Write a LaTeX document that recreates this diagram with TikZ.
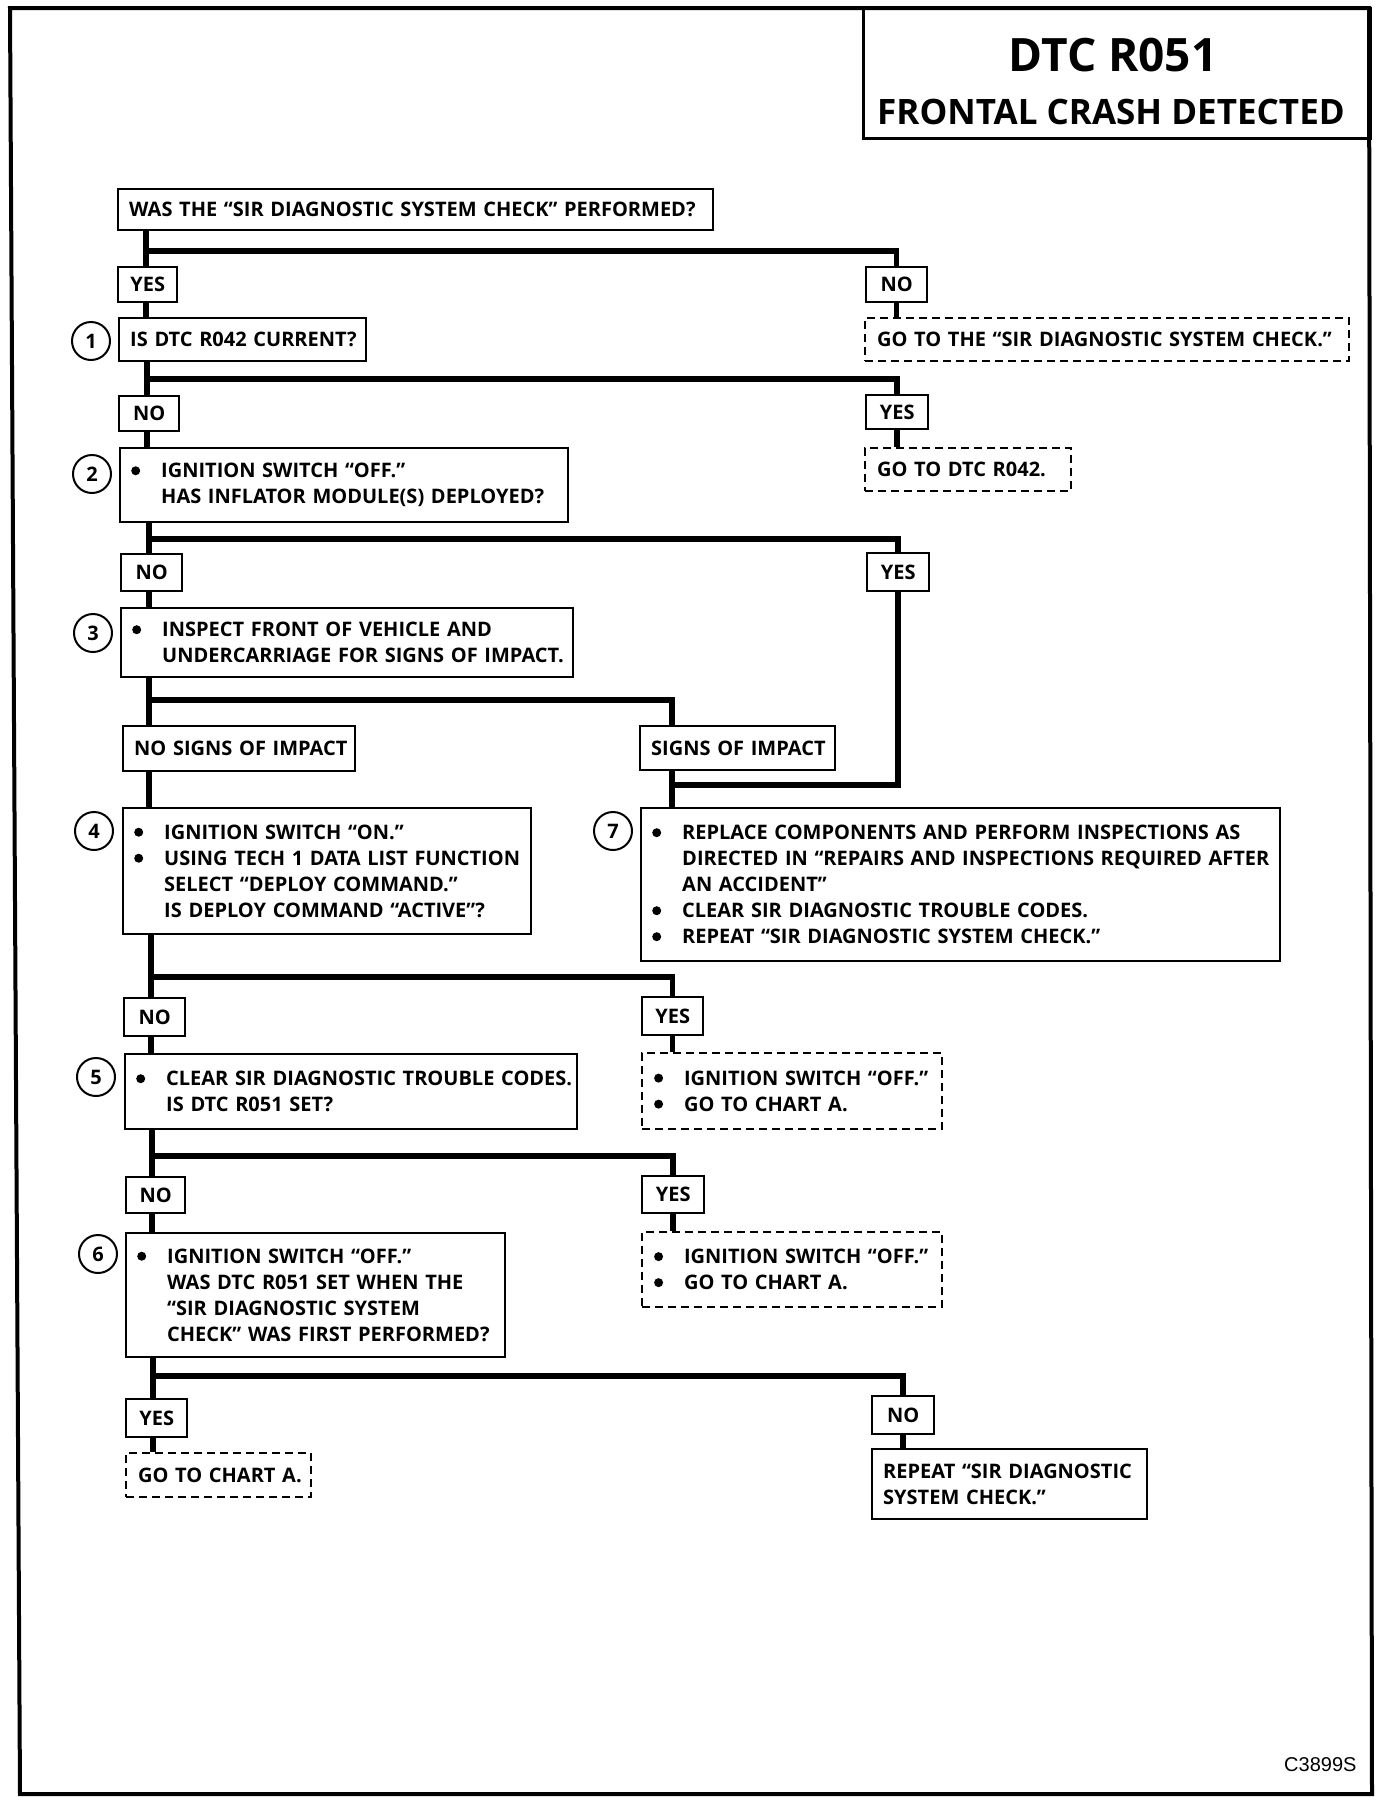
\documentclass[tikz,border=0pt]{standalone}
\usepackage{fontspec}
\setmainfont{Open Sans}
\newfontfamily\arialf{Liberation Sans}
\usetikzlibrary{calc}
\newcommand\dotb{\raisebox{2.6pt}{\tikz\fill (0,0) circle (4.5pt);}}
\newcommand\bul[1]{\mbox{\makebox[30pt][l]{\dotb}#1}}
\newcommand\cnt[1]{\mbox{\hspace*{30pt}#1}}
\newcommand\txl[1]{\mbox{#1}}
\tikzset{
  every node/.style={font=\fontsize{20}{26}\selectfont\bfseries},
  bx/.style={draw, line width=2.4pt, inner xsep=11pt, inner ysep=0pt, anchor=north west, align=left},
  lbl/.style={draw, line width=2.4pt, inner sep=0pt, anchor=north west},
  dbx/.style={bx, dash pattern=on 8pt off 5pt, line width=2.2pt, inner xsep=12pt},
  conn/.style={line width=5.5pt},
  num/.style={draw, circle, line width=2pt, minimum size=38pt, inner sep=0pt, font=\fontsize{20}{20}\selectfont\bfseries},
}
\begin{document}
\begin{tikzpicture}[x=1pt,y=-1pt]
\useasboundingbox (0,0) rectangle (1392,1802);
% outer frame and title
\draw[line width=4pt] (10,8) -- (1369,8) -- (1372,1794) -- (20,1794) -- cycle;
\node[draw, line width=2.5pt, minimum width=507pt, minimum height=130pt, anchor=north west, inner sep=0pt] (title) at (862,7) {};
\node[font=\fontsize{46}{46}\selectfont\bfseries] (t1) at (1113,55) {DTC R051};
\node[font=\fontsize{35}{35}\selectfont\bfseries] (t2) at (1111,112) {FRONTAL CRASH DETECTED};
\node[font=\arialf\fontsize{20}{20}\selectfont, anchor=east] (code) at (1360,1765) {C3899S};

% nodes
\node[bx, text width=573pt, minimum height=41pt] (q0) at (117,188) {\txl{WAS THE “SIR DIAGNOSTIC SYSTEM CHECK” PERFORMED?}};
\node[lbl, minimum width=59pt, minimum height=35pt] (yes1) at (117,266) {YES};
\node[lbl, minimum width=61pt, minimum height=35pt] (no1r) at (865,266) {NO};
\node[dbx, text width=460pt, minimum height=43pt] (goto1) at (864,317) {\txl{GO TO THE “SIR DIAGNOSTIC SYSTEM CHECK.”}};
\node[num] (c1) at (91,341) {1};
\node[bx, text width=225pt, minimum height=43pt] (box1) at (118,317) {\txl{IS DTC R042 CURRENT?}};

\node[lbl, minimum width=60pt, minimum height=35pt] (no2) at (118,395) {NO};
\node[lbl, minimum width=62pt, minimum height=34pt] (yes2r) at (865,394) {YES};
\node[dbx, text width=182pt, minimum height=43pt] (goto2) at (864,447) {\txl{GO TO DTC R042.}};
\node[num] (c2) at (92,474) {2};
\node[bx, text width=426pt, minimum height=74pt] (box2) at (119,447) {\bul{IGNITION SWITCH “OFF.”}\\\cnt{HAS INFLATOR MODULE(S) DEPLOYED?}};

\node[lbl, minimum width=61pt, minimum height=37pt] (no3) at (120,553) {NO};
\node[lbl, minimum width=62pt, minimum height=38pt] (yes3r) at (866,552) {YES};
\node[num] (c3) at (93,633) {3};
\node[bx, text width=430pt, minimum height=69pt] (box3) at (120,607) {\bul{INSPECT FRONT OF VEHICLE AND}\\\cnt{UNDERCARRIAGE FOR SIGNS OF IMPACT.}};

\node[bx, text width=210pt, minimum height=45pt] (nsi) at (122,725) {\txl{NO SIGNS OF IMPACT}};
\node[bx, text width=173pt, minimum height=44pt] (si) at (639,725) {\txl{SIGNS OF IMPACT}};

\node[num] (c4) at (94,831) {4};
\node[bx, text width=386pt, minimum height=126pt] (box4) at (122,807) {\bul{IGNITION SWITCH “ON.”}\\\bul{USING TECH 1 DATA LIST FUNCTION}\\\cnt{SELECT “DEPLOY COMMAND.”}\\\cnt{IS DEPLOY COMMAND “ACTIVE”?}};
\node[num] (c7) at (613,831) {7};
\node[bx, text width=617pt, minimum height=153pt] (box7) at (640,807) {\bul{REPLACE COMPONENTS AND PERFORM INSPECTIONS AS}\\\cnt{DIRECTED IN “REPAIRS AND INSPECTIONS REQUIRED AFTER}\\\cnt{AN ACCIDENT”}\\\bul{CLEAR SIR DIAGNOSTIC TROUBLE CODES.}\\\bul{REPEAT “SIR DIAGNOSTIC SYSTEM CHECK.”}};

\node[lbl, minimum width=61pt, minimum height=38pt] (no5) at (123,997) {NO};
\node[lbl, minimum width=61pt, minimum height=38pt] (yes5r) at (641,996) {YES};
\node[num] (c5) at (96,1077) {5};
\node[bx, text width=430pt, minimum height=75pt] (box5) at (124,1053) {\bul{CLEAR SIR DIAGNOSTIC TROUBLE CODES.}\\\cnt{IS DTC R051 SET?}};
\node[dbx, text width=276pt, minimum height=76pt] (dA1) at (641,1052) {\bul{IGNITION SWITCH “OFF.”}\\\bul{GO TO CHART A.}};

\node[lbl, minimum width=59pt, minimum height=36pt] (no6) at (125,1176) {NO};
\node[lbl, minimum width=62pt, minimum height=37pt] (yes6r) at (641,1175) {YES};
\node[num] (c6) at (98,1254) {6};
\node[bx, text width=357pt, minimum height=124pt] (box6) at (125,1232) {\bul{IGNITION SWITCH “OFF.”}\\\cnt{WAS DTC R051 SET WHEN THE}\\\cnt{“SIR DIAGNOSTIC SYSTEM}\\\cnt{CHECK” WAS FIRST PERFORMED?}};
\node[dbx, text width=276pt, minimum height=75pt] (dA2) at (641,1231) {\bul{IGNITION SWITCH “OFF.”}\\\bul{GO TO CHART A.}};

\node[lbl, minimum width=61pt, minimum height=38pt] (yes7) at (125,1398) {YES};
\node[lbl, minimum width=62pt, minimum height=38pt] (no7r) at (871,1395) {NO};
\node[dbx, text width=161pt, minimum height=44pt] (dA3) at (125,1452) {\txl{GO TO CHART A.}};
\node[bx, text width=253pt, minimum height=70pt] (rep) at (871,1448) {\txl{REPEAT “SIR DIAGNOSTIC}\\\txl{SYSTEM CHECK.”}};

% branch points
\coordinate (b1) at (146,251);
\coordinate (b2) at (147,379);
\coordinate (b3) at (149,539);
\coordinate (b4) at (149,700);
\coordinate (b4r) at (672,700);
\coordinate (j7) at (672,785);
\coordinate (b5) at (151,977);
\coordinate (b6) at (152,1156);
\coordinate (b7) at (153,1376);

% connectors
\draw[conn] (b1 |- q0.south) -- (b1 |- yes1.north);
\draw[conn] (b1) -| (no1r.north);
\draw[conn] (b1 |- yes1.south) -- (b1 |- box1.north);
\draw[conn] (no1r.south) -- (no1r.south |- goto1.north);

\draw[conn] (b2 |- box1.south) -- (b2 |- no2.north);
\draw[conn] (b2) -| (yes2r.north);
\draw[conn] (b2 |- no2.south) -- (b2 |- box2.north);
\draw[conn] (yes2r.south) -- (yes2r.south |- goto2.north);

\draw[conn] (b3 |- box2.south) -- (b3 |- no3.north);
\draw[conn] (b3) -| (yes3r.north);
\draw[conn] (b3 |- no3.south) -- (b3 |- box3.north);
\draw[conn] (yes3r.south) |- (j7);

\draw[conn] (b4 |- box3.south) -- (b4 |- nsi.north);
\draw[conn] (b4) -| (b4r |- si.north);
\draw[conn] (b4 |- nsi.south) -- (b4 |- box4.north);
\draw[conn] (b4r |- si.south) -- (b4r |- box7.north);

\draw[conn] (b5 |- box4.south) -- (b5 |- no5.north);
\draw[conn] (b5) -| (yes5r.north);
\draw[conn] (b5 |- no5.south) -- (b5 |- box5.north);
\draw[conn] (yes5r.south) -- (yes5r.south |- dA1.north);

\draw[conn] (b6 |- box5.south) -- (b6 |- no6.north);
\draw[conn] (b6) -| (yes6r.north);
\draw[conn] (b6 |- no6.south) -- (b6 |- box6.north);
\draw[conn] (yes6r.south) -- (yes6r.south |- dA2.north);

\draw[conn] (b7 |- box6.south) -- (b7 |- yes7.north);
\draw[conn] (b7) -| (no7r.north);
\draw[conn] (b7 |- yes7.south) -- (b7 |- dA3.north);
\draw[conn] (no7r.south) -- (no7r.south |- rep.north);
\end{tikzpicture}
\end{document}
